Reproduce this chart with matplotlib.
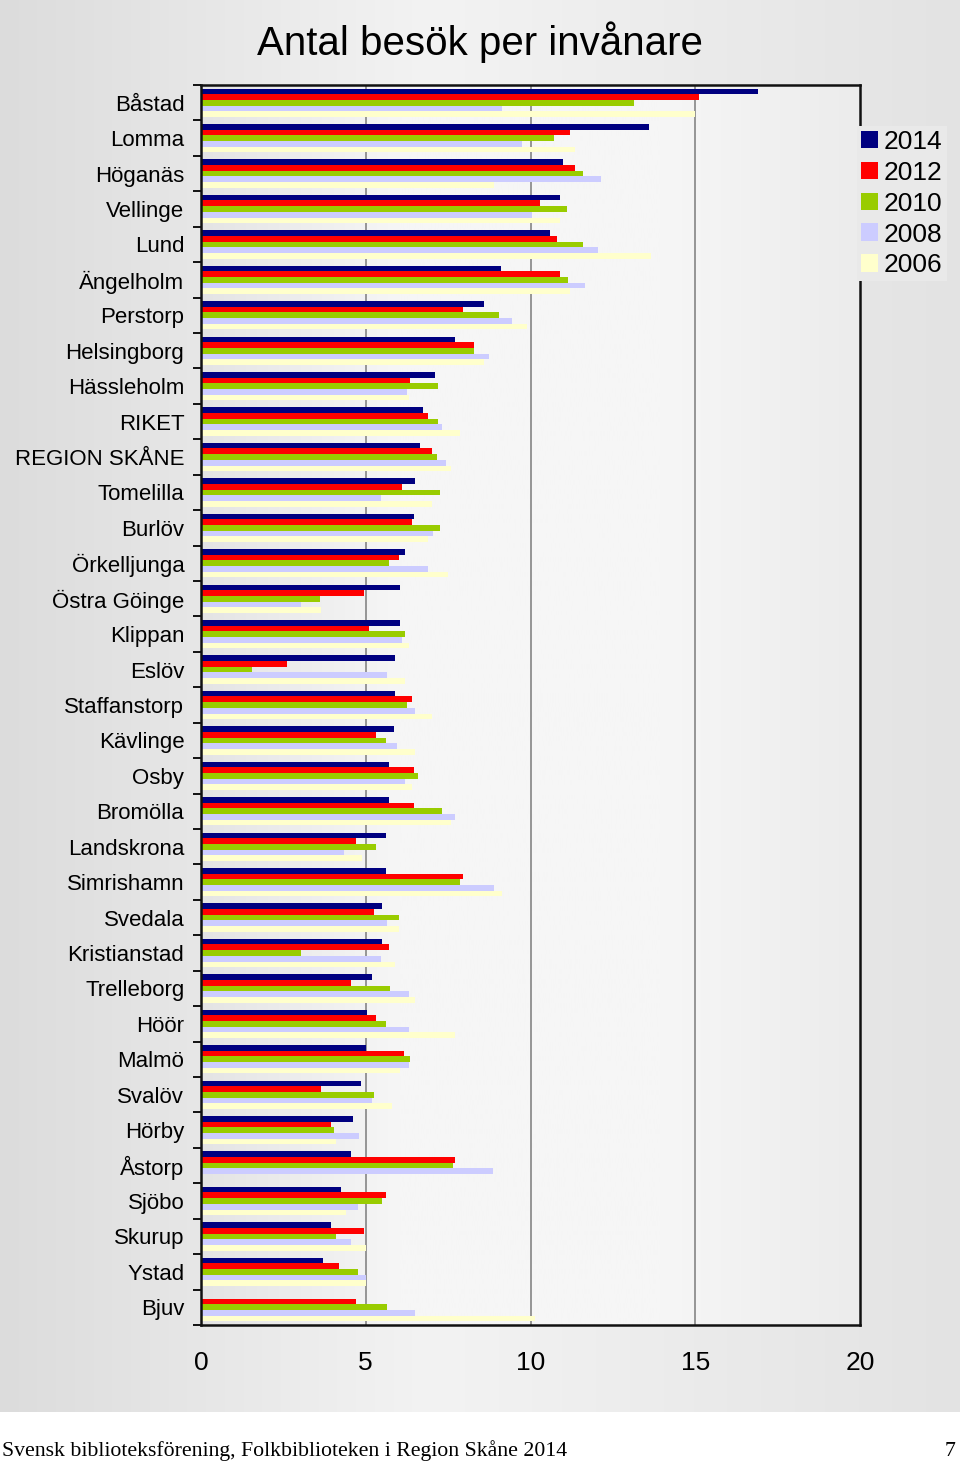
import matplotlib
matplotlib.use("Agg")
import matplotlib.pyplot as plt
from matplotlib.colors import LinearSegmentedColormap
from matplotlib.patches import Patch
import numpy as np

categories = ["Båstad", "Lomma", "Höganäs", "Vellinge", "Lund", "Ängelholm",
              "Perstorp", "Helsingborg", "Hässleholm", "RIKET", "REGION SKÅNE",
              "Tomelilla", "Burlöv", "Örkelljunga", "Östra Göinge", "Klippan",
              "Eslöv", "Staffanstorp", "Kävlinge", "Osby", "Bromölla",
              "Landskrona", "Simrishamn", "Svedala", "Kristianstad",
              "Trelleborg", "Höör", "Malmö", "Svalöv", "Hörby", "Åstorp",
              "Sjöbo", "Skurup", "Ystad", "Bjuv"]

years = ["2014", "2012", "2010", "2008", "2006"]

v2014 = [16.9, 13.6, 11.0, 10.9, 10.6, 9.1, 8.6, 7.7, 7.1, 6.75, 6.65, 6.5,
         6.45, 6.2, 6.05, 6.05, 5.9, 5.9, 5.85, 5.7, 5.7, 5.6, 5.6, 5.5, 5.5,
         5.2, 5.05, 5.0, 4.85, 4.6, 4.55, 4.25, 3.95, 3.7, 0]
v2012 = [15.1, 11.2, 11.35, 10.3, 10.8, 10.9, 7.95, 8.3, 6.35, 6.9, 7.0, 6.1,
         6.4, 6.0, 4.95, 5.1, 2.6, 6.4, 5.3, 6.45, 6.45, 4.7, 7.95, 5.25, 5.7,
         4.55, 5.3, 6.15, 3.65, 3.95, 7.7, 5.6, 4.95, 4.2, 4.7]
v2010 = [13.15, 10.7, 11.6, 11.1, 11.6, 11.15, 9.05, 8.3, 7.2, 7.2, 7.15, 7.25,
         7.25, 5.7, 3.6, 6.2, 1.55, 6.25, 5.6, 6.6, 7.3, 5.3, 7.85, 6.0, 3.05,
         5.75, 5.6, 6.35, 5.25, 4.05, 7.65, 5.5, 4.1, 4.75, 5.65]
v2008 = [9.15, 9.75, 12.15, 10.05, 12.05, 11.65, 9.45, 8.75, 6.25, 7.3, 7.45,
         5.45, 7.05, 6.9, 3.05, 6.1, 5.65, 6.5, 5.95, 6.2, 7.7, 4.35, 8.9, 5.65,
         5.45, 6.3, 6.3, 6.3, 5.2, 4.8, 8.85, 4.75, 4.55, 5.0, 6.5]
v2006 = [15.0, 11.35, 8.9, 10.9, 13.65, 11.2, 9.9, 8.6, 6.3, 7.85, 7.6, 7.0,
         6.9, 7.5, 3.65, 6.3, 6.2, 7.0, 6.5, 6.4, 7.6, 4.9, 9.15, 6.0, 5.9,
         6.5, 7.7, 6.05, 5.8, 4.1, 0, 4.4, 5.0, 5.0, 10.15]

series = [v2014, v2012, v2010, v2008, v2006]
colors = ["#000080", "#FF0000", "#99CC00", "#CCCCFF", "#FFFFCC"]

plt.rcParams["font.family"] = ["Liberation Sans", "DejaVu Sans"]

W, H = 960, 1463
fig = plt.figure(figsize=(W / 100, H / 100), dpi=100)

# grey gradient page background above the footer
bg = fig.add_axes([0, 1 - 1412 / H, 1, 1412 / H], zorder=-5)
page_cmap = LinearSegmentedColormap.from_list(
    "page", [(0, "#dcdcdc"), (0.45, "#f3f3f3"), (1, "#e3e3e3")])
bg.imshow(np.linspace(0, 1, 256)[None, :], aspect="auto", cmap=page_cmap,
          extent=[0, 1, 0, 1])
bg.axis("off")

# plot area
left, right, top, bottom = 201, 860, 85, 1325
ax = fig.add_axes([left / W, 1 - bottom / H, (right - left) / W,
                   (bottom - top) / H])

n = len(categories)
ypos = np.arange(n)
bar_h = 0.16

area_cmap = LinearSegmentedColormap.from_list(
    "area", [(0, "#e4e4e4"), (0.3, "#f6f6f6"), (0.7, "#f6f6f6"), (1, "#ececec")])
ax.imshow(np.linspace(0, 1, 256)[None, :], aspect="auto", cmap=area_cmap,
          extent=[0, 20, n - 0.5, -0.5], zorder=0)

for xg in [5, 10, 15]:
    ax.axvline(xg, color="#858585", lw=1.2, zorder=1)

for i, (vals, col) in enumerate(zip(series, colors)):
    ax.barh(ypos + (i - 2) * bar_h, vals, height=bar_h, color=col,
            label=years[i], zorder=2)

ax.set_xlim(0, 20)
ax.set_ylim(n - 0.5, -0.5)
ax.set_xticks([0, 5, 10, 15, 20])
ax.set_xticklabels(["0", "5", "10", "15", "20"])
ax.tick_params(axis="x", length=0, pad=19, labelsize=19)
ax.set_yticks(ypos)
ax.set_yticklabels(categories)
ax.tick_params(axis="y", which="major", length=0, pad=12, labelsize=16)
ax.set_yticks(np.arange(-0.5, n, 1), minor=True)
ax.tick_params(axis="y", which="minor", length=6, width=1.3, color="black")

for sp in ax.spines.values():
    sp.set_linewidth(1.8)
    sp.set_color("#111111")
    sp.set_zorder(3)

handles = [Patch(facecolor=c, edgecolor="none") for c in colors]
leg = ax.legend(handles, years, loc="upper left",
                bbox_to_anchor=(857 / W, 1 - 126 / H),
                bbox_transform=fig.transFigure, fontsize=19, frameon=True,
                facecolor="#e9e9e9", edgecolor="none", framealpha=1,
                handlelength=0.65, handleheight=0.65, handletextpad=0.22,
                labelspacing=0.26, borderpad=0.15, borderaxespad=0)
leg.get_frame().set_boxstyle("square", pad=0)

fig.text(480 / W, 1 - 42 / H, "Antal besök per invånare", fontsize=29,
         ha="center", va="center")

fig.text(2 / W, 1 - 1451 / H,
         "Svensk biblioteksförening, Folkbiblioteken i Region Skåne 2014",
         fontsize=15.7, family="Liberation Serif", ha="left", va="center")
fig.text(956 / W, 1 - 1451 / H, "7", fontsize=15.7, family="Liberation Serif",
         ha="right", va="center")

fig.savefig("out.png", dpi=100)
